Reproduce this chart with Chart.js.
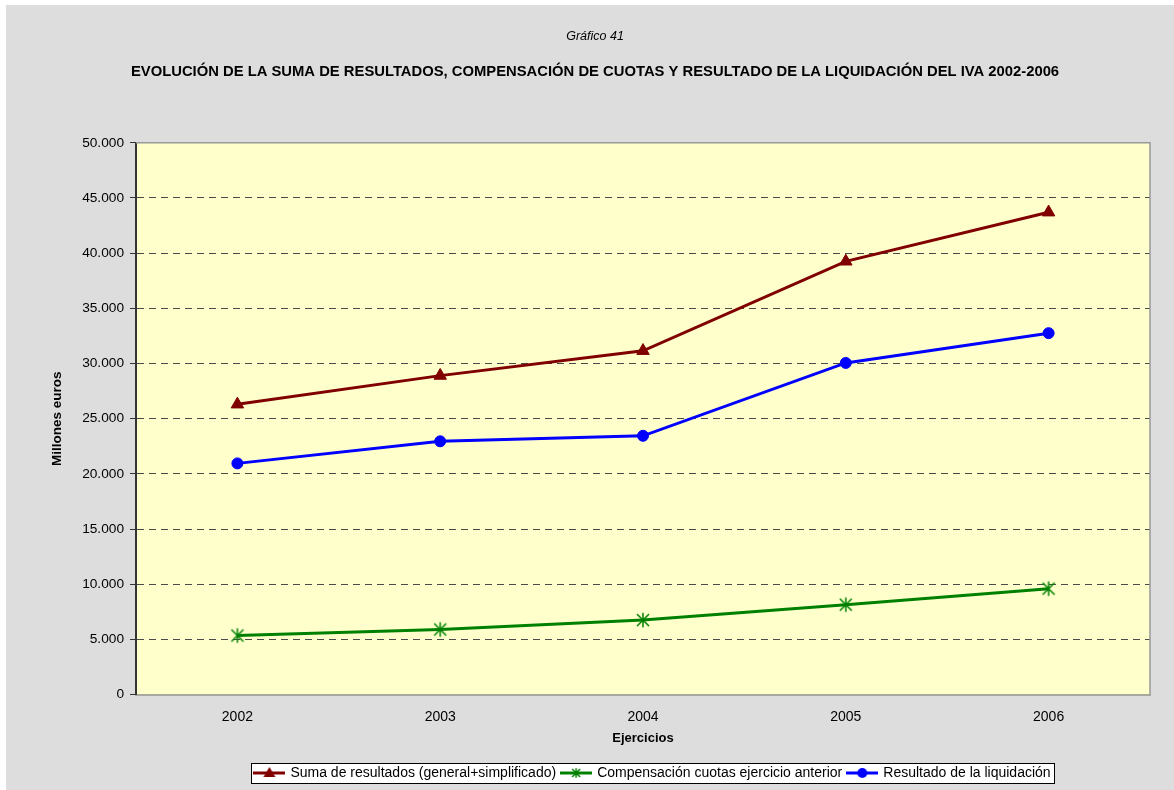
<!DOCTYPE html>
<html lang="es">
<head>
<meta charset="utf-8">
<title>Gráfico 41</title>
<script src="https://cdn.jsdelivr.net/npm/chart.js@4"></script>
<style>
  html, body { margin: 0; padding: 0; background: #fff; }
  #wrap { width: 1174px; height: 790px; }
</style>
</head>
<body>
<div id="wrap"><canvas id="iva-chart" width="1174" height="790"></canvas></div>
<script>
const ejercicios = ['2002', '2003', '2004', '2005', '2006'];
const sumaResultados = [26300, 28900, 31150, 39250, 43700];
const compensacionCuotas = [5350, 5900, 6750, 8150, 9600];
const resultadoLiquidacion = [20950, 22950, 23450, 30050, 32750];
const seriesLabels = [
  'Suma de resultados (general+simplificado)',
  'Compensación cuotas ejercicio anterior',
  'Resultado de la liquidación'
];

const FONT = "'Liberation Sans', Arial, sans-serif";
const RED = '#800000';
const GREEN = '#008000';
const BLUE = '#0000ff';

// asterisk marker: an X crossed by a vertical stroke
function drawStar(ctx, cx, cy, r, color) {
  ctx.strokeStyle = color;
  ctx.lineWidth = 1.5;
  ctx.beginPath();
  ctx.moveTo(cx - r, cy - r); ctx.lineTo(cx + r, cy + r);
  ctx.moveTo(cx + r, cy - r); ctx.lineTo(cx - r, cy + r);
  ctx.moveTo(cx, cy - r * 1.2); ctx.lineTo(cx, cy + r * 1.2);
  ctx.stroke();
}

function makeStarMarker() {
  const c = document.createElement('canvas');
  c.width = 16; c.height = 18;
  drawStar(c.getContext('2d'), 8, 9, 6, GREEN);
  return c;
}

// legend icon: line segment with the series marker in the middle
function makeLegendIcon(color, marker) {
  const c = document.createElement('canvas');
  c.width = 32; c.height = 14;
  const g = c.getContext('2d');
  g.strokeStyle = color;
  g.lineWidth = 3;
  g.beginPath();
  g.moveTo(0, 7); g.lineTo(32, 7);
  g.stroke();
  g.fillStyle = color;
  if (marker === 'triangle') {
    g.beginPath();
    g.moveTo(16, 1); g.lineTo(22, 11); g.lineTo(10, 11);
    g.closePath(); g.fill();
  } else if (marker === 'circle') {
    g.beginPath();
    g.arc(16, 7, 5, 0, Math.PI * 2);
    g.fill();
  } else {
    drawStar(g, 16, 7, 4, color);
  }
  return c;
}

const legendIcons = [
  makeLegendIcon(RED, 'triangle'),
  makeLegendIcon(GREEN, 'star'),
  makeLegendIcon(BLUE, 'circle')
];

function formatMiles(v) {
  return String(v).replace(/\B(?=(\d{3})+(?!\d))/g, '.');
}

const backdrop = {
  id: 'backdrop',
  afterLayout(chart) {
    // legend row sits a little right of the plot centre
    chart.legend.left += 10;
    chart.legend.right += 10;
  },
  beforeDraw(chart) {
    const { ctx, chartArea: a } = chart;
    ctx.save();
    ctx.fillStyle = '#ffffff';
    ctx.fillRect(0, 0, chart.width, chart.height);
    ctx.fillStyle = '#dddddd';
    ctx.fillRect(6, 5, chart.width - 6, chart.height - 5);
    ctx.fillStyle = '#ffffcc';
    ctx.fillRect(a.left, a.top, a.right - a.left, a.bottom - a.top);

    // white framed box behind the legend items
    const boxes = chart.legend.legendHitBoxes;
    if (boxes && boxes.length) {
      const l = Math.min(...boxes.map(b => b.left)) - 4;
      const r = Math.max(...boxes.map(b => b.left + b.width)) + 4;
      const t = boxes[0].top - 3;
      const h = boxes[0].height + 6;
      ctx.fillStyle = '#ffffff';
      ctx.fillRect(l, t, r - l, h);
      ctx.strokeStyle = '#000000';
      ctx.lineWidth = 1;
      ctx.strokeRect(Math.round(l) + 0.5, Math.round(t) + 0.5, Math.round(r - l), Math.round(h));
    }
    ctx.restore();
  },
  beforeDatasetsDraw(chart) {
    const { ctx, chartArea: a } = chart;
    ctx.save();
    ctx.strokeStyle = '#999999';
    ctx.lineWidth = 1.5;
    ctx.beginPath();
    ctx.moveTo(a.left, a.top);
    ctx.lineTo(a.right, a.top);
    ctx.lineTo(a.right, a.bottom);
    ctx.stroke();
    ctx.restore();
  }
};

const ctx = document.getElementById('iva-chart').getContext('2d');

new Chart(ctx, {
  type: 'line',
  data: {
    labels: ejercicios,
    datasets: [
      {
        label: seriesLabels[0],
        data: sumaResultados,
        borderColor: RED,
        backgroundColor: RED,
        borderWidth: 3,
        pointStyle: 'triangle',
        pointRadius: 7.2,
        pointBorderWidth: 1
      },
      {
        label: seriesLabels[1],
        data: compensacionCuotas,
        borderColor: GREEN,
        backgroundColor: GREEN,
        borderWidth: 3,
        pointStyle: makeStarMarker(),
        pointRadius: 7
      },
      {
        label: seriesLabels[2],
        data: resultadoLiquidacion,
        borderColor: BLUE,
        backgroundColor: BLUE,
        borderWidth: 3,
        pointStyle: 'circle',
        pointRadius: 5.5,
        pointBorderWidth: 1
      }
    ]
  },
  options: {
    responsive: false,
    animation: false,
    layout: { padding: { left: 40, right: 24, top: 0, bottom: 0 } },
    elements: { line: { tension: 0 } },
    scales: {
      x: {
        type: 'category',
        offset: true,
        grid: { display: false, drawTicks: false },
        border: { display: true, color: '#a8a8a0', width: 2 },
        ticks: { color: '#000', padding: 14, font: { family: FONT, size: 14 } },
        title: {
          display: true,
          text: 'Ejercicios',
          color: '#000',
          padding: { top: -9, bottom: 14 },
          font: { family: FONT, size: 13, weight: 'bold' }
        }
      },
      y: {
        min: 0,
        max: 50000,
        afterFit(scale) { scale.width = 96; },
        grid: {
          color: c => (c.tick && (c.tick.value === 0 || c.tick.value === 50000)) ? 'rgba(0,0,0,0)' : '#4a4a4a',
          lineWidth: 1,
          tickLength: 6,
          tickColor: '#333333',
          tickBorderDash: []
        },
        border: { display: true, color: '#333333', width: 2, dash: [7, 5] },
        ticks: {
          stepSize: 5000,
          color: '#000',
          padding: 6,
          font: { family: FONT, size: 13.7 },
          callback: v => formatMiles(v)
        },
        title: {
          display: true,
          text: 'Millones euros',
          color: '#000',
          padding: { top: 9, bottom: 0 },
          font: { family: FONT, size: 13.5, weight: 'bold' }
        }
      }
    },
    plugins: {
      title: {
        display: true,
        text: 'Gráfico 41',
        color: '#000',
        padding: { top: 29, bottom: 19 },
        font: { family: FONT, size: 12.5, style: 'italic', weight: 'normal' }
      },
      subtitle: {
        display: true,
        text: 'EVOLUCIÓN DE LA SUMA DE RESULTADOS, COMPENSACIÓN DE CUOTAS Y RESULTADO DE LA LIQUIDACIÓN DEL IVA 2002-2006',
        color: '#000',
        padding: { top: 0, bottom: 62 },
        font: { family: FONT, size: 14.8, weight: 'bold' }
      },
      legend: {
        position: 'bottom',
        fullSize: false,
        labels: {
          usePointStyle: true,
          pointStyleWidth: 28,
          padding: 6,
          color: '#000',
          font: { family: FONT, size: 14 },
          generateLabels: chart => chart.data.datasets.map((ds, i) => ({
            text: ds.label,
            pointStyle: legendIcons[i],
            fillStyle: ds.borderColor,
            strokeStyle: ds.borderColor,
            lineWidth: 0,
            fontColor: '#000',
            hidden: false,
            datasetIndex: i
          }))
        }
      },
      tooltip: { enabled: false }
    }
  },
  plugins: [backdrop]
});
</script>
</body>
</html>
